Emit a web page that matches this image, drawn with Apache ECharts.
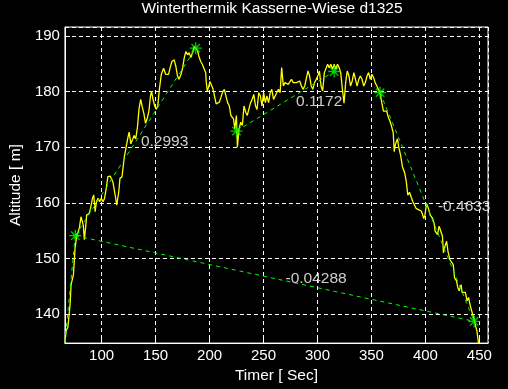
<!DOCTYPE html>
<html><head><meta charset="utf-8">
<script src="https://cdn.jsdelivr.net/npm/echarts@6/dist/echarts.min.js"></script>
<style>html,body{margin:0;padding:0;background:#000}#c{width:508px;height:389px}</style>
</head><body><div id="c"></div>
<script>
const chartTitle = 'Winterthermik Kasserne-Wiese d1325';
const xAxisName = 'Timer [ Sec]';
const yAxisName = 'Altitude [ m]';
const xRange = [66, 458];
const yRange = [134.8, 191.6];

const timeSec = [
  66.0, 67.2, 68.7, 69.6, 70.8, 71.7, 73.9, 75.4, 76.9, 79.4,
  80.9, 83.0, 84.0, 85.4, 86.1, 88.5, 89.7, 91.5, 92.7, 94.0,
  95.2, 96.7, 98.2, 99.7, 101.3, 102.7, 104.3, 105.8, 107.9, 110.4,
  112.8, 114.0, 115.9, 117.0, 118.9, 120.1, 121.0, 124.1, 125.5, 127.1,
  128.9, 130.1, 131.6, 133.2, 134.6, 136.2, 137.7, 139.2, 140.7, 142.3,
  143.8, 145.3, 146.2, 147.4, 149.2, 150.5, 152.0, 153.5, 155.3, 157.4,
  159.3, 160.5, 162.0, 163.5, 165.1, 167.2, 168.7, 170.2, 171.7, 173.6,
  175.1, 176.6, 178.1, 179.7, 181.1, 182.7, 184.2, 185.7, 187.2, 188.8,
  190.0, 191.8, 193.3, 194.8, 196.4, 197.0, 197.9, 199.1, 200.3, 201.6,
  203.0, 204.6, 206.1, 207.6, 209.1, 210.7, 212.1, 213.7, 215.2, 216.7,
  218.2, 219.8, 221.2, 222.2, 223.4, 224.9, 225.8, 227.3, 228.9, 230.4,
  231.9, 233.5, 234.9, 236.5, 238.0, 239.5, 241.0, 242.6, 244.0, 245.6,
  247.1, 248.6, 250.1, 251.7, 253.1, 254.7, 256.2, 257.7, 259.3, 260.8,
  262.3, 263.8, 265.4, 266.8, 268.4, 269.9, 271.4, 272.9, 274.5, 275.9,
  277.5, 279.0, 280.5, 282.0, 283.6, 285.1, 286.6, 288.2, 289.6, 291.2,
  292.7, 294.2, 295.7, 297.3, 298.7, 300.3, 301.8, 303.3, 304.8, 306.4,
  309.4, 310.9, 312.4, 314.0, 315.5, 317.0, 318.5, 320.1, 321.5, 323.1,
  324.6, 326.1, 327.6, 329.2, 330.6, 332.2, 333.7, 335.2, 336.7, 338.3,
  339.7, 341.3, 342.8, 344.3, 345.9, 347.4, 348.9, 350.4, 352.0, 353.4,
  355.0, 356.5, 358.0, 359.5, 361.1, 362.5, 364.1, 365.6, 367.1, 368.6,
  370.2, 371.1, 372.3, 374.1, 375.3, 377.1, 378.7, 380.8, 382.3, 383.7,
  385.3, 386.9, 388.4, 389.9, 391.4, 393.0, 394.4, 396.3, 398.5, 399.6,
  401.0, 402.8, 404.5, 406.7, 408.1, 409.0, 411.2, 412.7, 414.2, 415.8,
  416.7, 418.1, 419.7, 420.9, 422.7, 424.0, 425.8, 427.0, 428.8, 430.0,
  431.3, 433.1, 434.0, 435.5, 437.0, 438.6, 440.0, 441.6, 443.1, 444.6,
  446.1, 447.7, 449.2
];
const altitudeM = [
  134.9, 137.1, 137.6, 139.4, 141.8, 145.3, 147.1, 151.9, 154.0, 155.5,
  157.5, 156.0, 153.4, 156.0, 157.8, 158.1, 159.0, 160.8, 161.4, 158.4,
  160.2, 160.8, 160.2, 160.8, 160.2, 160.8, 162.6, 164.7, 164.8, 163.8,
  161.1, 159.6, 162.0, 164.4, 164.7, 166.7, 168.2, 171.5, 172.7, 170.6,
  170.3, 172.1, 171.5, 173.6, 176.8, 178.6, 177.2, 176.0, 174.3, 175.2,
  176.5, 179.2, 180.1, 178.8, 177.4, 176.8, 177.4, 180.4, 183.1, 184.2,
  183.1, 183.4, 183.1, 184.3, 185.4, 185.7, 184.6, 182.9, 182.2, 183.1,
  184.3, 186.1, 187.2, 186.6, 187.0, 186.1, 187.0, 188.1, 188.4, 187.4,
  186.4, 185.4, 184.9, 184.6, 183.4, 181.6, 180.1, 180.8, 181.8, 181.7,
  180.6, 179.2, 177.8, 177.5, 178.1, 178.1, 179.9, 180.4, 180.1, 178.0,
  177.5, 175.7, 176.0, 175.1, 173.3, 175.7, 170.0, 173.3, 174.5, 173.9,
  177.4, 176.3, 175.7, 176.9, 178.0, 178.6, 179.5, 177.4, 176.8, 179.8,
  179.2, 177.4, 179.8, 178.0, 179.2, 178.0, 179.8, 180.4, 178.6, 179.2,
  179.8, 180.4, 179.8, 184.3, 181.0, 181.6, 181.9, 181.3, 181.6, 182.2,
  181.6, 181.9, 181.6, 181.9, 181.9, 181.0, 180.4, 181.0, 181.0, 183.7,
  182.8, 181.0, 180.4, 181.6, 181.6, 182.8, 183.7, 181.0, 180.1, 183.4,
  184.9, 184.3, 184.9, 184.0, 184.9, 184.0, 184.9, 184.3, 183.4, 180.4,
  177.9, 181.6, 183.7, 182.8, 181.0, 181.9, 183.4, 182.2, 181.0, 182.2,
  182.8, 182.2, 181.0, 181.6, 182.8, 183.4, 182.2, 183.1, 182.5, 181.6,
  181.0, 180.7, 179.8, 178.1, 176.5, 176.7, 176.5, 175.4, 174.7, 173.8,
  172.6, 169.2, 170.6, 171.5, 170.0, 168.5, 166.5, 165.4, 163.8, 161.4,
  161.9, 161.0, 160.2, 160.3, 159.0, 159.0, 158.7, 158.5, 157.2, 157.8,
  159.9, 159.0, 157.8, 157.2, 156.3, 154.9, 154.3, 155.8, 155.5, 154.0,
  151.0, 152.2, 153.1, 151.3, 149.8, 150.1, 148.9, 146.5, 146.0, 144.8,
  144.2, 145.3, 143.9, 143.6, 143.9, 142.4, 143.0, 141.5, 141.2, 139.4,
  138.2, 137.0, 134.8
];

// fit points (start of record + marked points)
const fitTime = [66.0, 75.6, 187.2, 224.9, 315.5, 358.0, 445.2];
const fitAlt  = [134.9, 154.1, 187.8, 172.9, 183.6, 179.8, 138.7];
const starIdx = [1, 2, 3, 4, 5, 6];
// fitted segments between points, with their slope labels
const segFrom  = [0, 1, 3, 5, 1];
const segTo    = [1, 2, 4, 6, 6];
const segLabel = ['', '0.2993', '0.1172', '-0.4633', '-0.04288'];
const labelShiftSec = [0, 5, 10, 10, 10];

const FONT = '"Liberation Sans", Arial, sans-serif';
const chart = echarts.init(document.getElementById('c'), null, {renderer: 'canvas'});

const series = [];
series.push({
  type: 'line', data: timeSec.map((t, i) => [t, altitudeM[i]]),
  showSymbol: false, symbol: 'none', silent: true,
  lineStyle: {color: '#ffff00', width: 1.3}, z: 2
});
segFrom.forEach((a, k) => {
  const b = segTo[k];
  series.push({
    type: 'line', data: [[fitTime[a], fitAlt[a]], [fitTime[b], fitAlt[b]]],
    symbol: 'none', silent: true,
    lineStyle: {color: '#00ff00', width: 1, type: [4, 4]}, z: 3
  });
});
series.push({
  type: 'scatter', data: starIdx.map(i => [fitTime[i], fitAlt[i]]),
  symbol: 'path://M5,0L5,10M0,5L10,5M1.5,1.5L8.5,8.5M8.5,1.5L1.5,8.5',
  symbolSize: 12, silent: true,
  itemStyle: {color: 'rgba(0,0,0,0)', borderColor: '#00ff00', borderWidth: 1.3}, z: 4
});
series.push({
  type: 'scatter', symbolSize: 0, silent: true, z: 5,
  data: segFrom.map((a, k) => {
    const b = segTo[k];
    return {value: [(fitTime[a] + fitTime[b]) / 2 + labelShiftSec[k], (fitAlt[a] + fitAlt[b]) / 2], name: segLabel[k]};
  }).filter(d => d.name !== ''),
  label: {show: true, position: 'right', distance: 0, formatter: p => p.name,
    color: '#ffffff', fontSize: 15.5, fontFamily: FONT}
});

const axisCommon = {
  axisLine: {show: true, lineStyle: {color: '#ffffff', width: 1}},
  axisTick: {show: true, inside: true, length: 5, lineStyle: {color: '#ffffff'}},
  splitLine: {show: true, lineStyle: {color: '#ffffff', width: 1, type: [4, 3]}},
  nameTextStyle: {color: '#ffffff', fontSize: 15.5, fontFamily: FONT}
};

chart.setOption({
  backgroundColor: '#000000',
  animation: false,
  title: {text: chartTitle, left: 272, top: 1, padding: 0, textAlign: 'center',
    textStyle: {color: '#ffffff', fontSize: 15.5, fontWeight: 'normal', fontFamily: FONT}},
  grid: {left: 58, right: 20, top: 27, bottom: 43, show: true, borderColor: '#ffffff', borderWidth: 1, backgroundColor: '#000000'},
  xAxis: Object.assign({}, axisCommon, {
    type: 'value', min: xRange[0], max: xRange[1], splitNumber: 8,
    name: xAxisName, nameLocation: 'middle', nameGap: 23,
    axisLabel: {color: '#ffffff', fontSize: 15, fontFamily: FONT, margin: 5, showMinLabel: false, showMaxLabel: false}
  }),
  yAxis: Object.assign({}, axisCommon, {
    type: 'value', min: yRange[0], max: yRange[1], splitNumber: 5,
    name: yAxisName, nameLocation: 'middle', nameGap: 35,
    axisLabel: {color: '#ffffff', fontSize: 15, fontFamily: FONT, margin: 5, showMinLabel: false, showMaxLabel: false}
  }),
  series: series
});
</script></body></html>
